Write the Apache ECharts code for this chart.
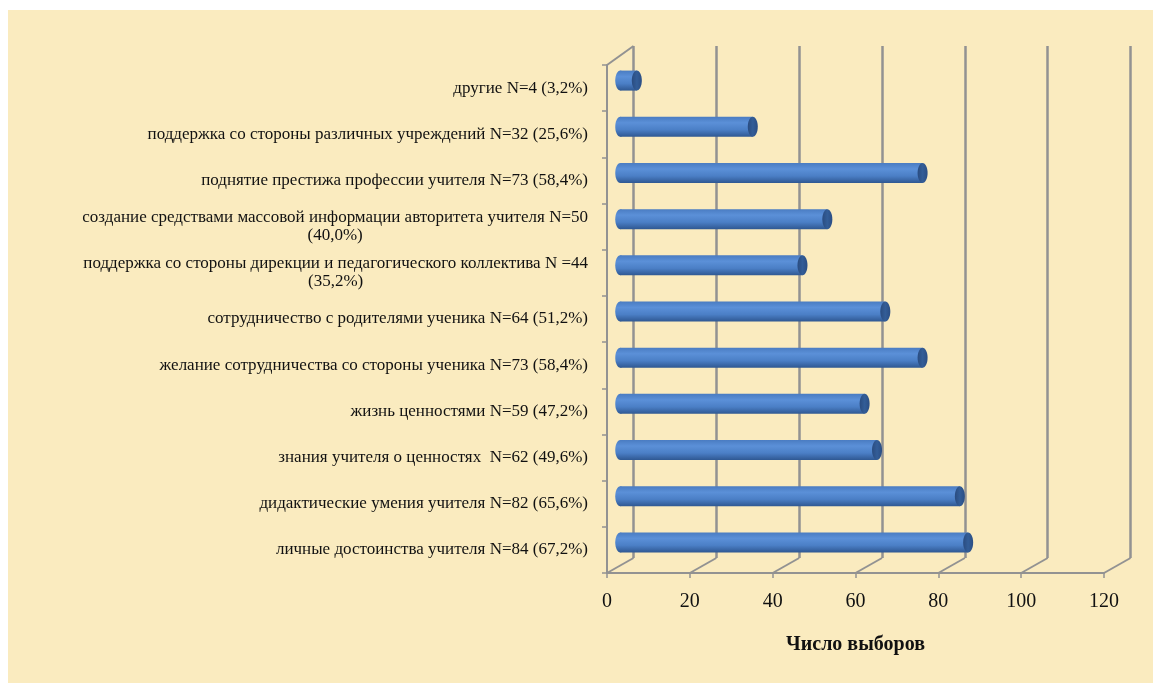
<!DOCTYPE html>
<html>
<head>
<meta charset="utf-8">
<script src="https://cdn.jsdelivr.net/npm/echarts@6/dist/echarts.min.js"></script>
<style>
  html, body { margin: 0; padding: 0; background: #fff; }
  #chart { width: 1161px; height: 693px; }
</style>
</head>
<body>
<div id="chart"></div>
<script>
// categories, top to bottom
const categories = [
  "другие N=4 (3,2%)",
  "поддержка со стороны различных учреждений N=32 (25,6%)",
  "поднятие престижа профессии учителя N=73 (58,4%)",
  "создание средствами массовой информации авторитета учителя N=50\n(40,0%)",
  "поддержка со стороны дирекции и педагогического коллектива N =44\n(35,2%)",
  "сотрудничество с родителями ученика N=64 (51,2%)",
  "желание сотрудничества со стороны ученика N=73 (58,4%)",
  "жизнь ценностями N=59 (47,2%)",
  "знания учителя о ценностях  N=62 (49,6%)",
  "дидактические умения учителя N=82 (65,6%)",
  "личные достоинства учителя N=84 (67,2%)",
];
const values = [4, 32, 73, 50, 44, 64, 73, 59, 62, 82, 84];
const xTicks = [0, 20, 40, 60, 80, 100, 120];
const axisName = "Число выборов";

const FONT = "'Liberation Serif', 'Times New Roman', serif";
const LINE = "#929292";
// 3d depth of the plot box
const DEPTH_X = 26.5;
const DEPTH_Y_BOTTOM = 15;
const DEPTH_Y_TOP = 19;

var myChart = echarts.init(document.getElementById("chart"));

function renderBar(params, api) {
  var i = api.value(1);
  var p0 = api.coord([0, i]);
  var p1 = api.coord([api.value(0), i]);
  var dx = DEPTH_X / 2;
  var dy = -7.5;
  var h = 20;
  var x0 = p0[0] + dx;
  var x1 = p1[0] + dx;
  var y = p0[1] + dy - h / 2;
  var rx = 5;
  var body = new echarts.graphic.LinearGradient(0, 0, 0, 1, [
    { offset: 0, color: "#4a7cc2" },
    { offset: 0.3, color: "#5b90d8" },
    { offset: 0.65, color: "#4b7fc6" },
    { offset: 1, color: "#2f5892" },
  ]);
  var cap = new echarts.graphic.LinearGradient(0, 0, 1, 0, [
    { offset: 0, color: "#2a4c80" },
    { offset: 0.5, color: "#335d97" },
    { offset: 1, color: "#2b4e84" },
  ]);
  return {
    type: "group",
    children: [
      {
        type: "ellipse",
        shape: { cx: x0, cy: y + h / 2, rx: rx, ry: h / 2 },
        style: { fill: body },
      },
      {
        type: "rect",
        shape: { x: x0, y: y, width: Math.max(x1 - x0, 0), height: h },
        style: { fill: body },
      },
      {
        type: "ellipse",
        shape: { cx: x1, cy: y + h / 2, rx: rx, ry: h / 2 },
        style: { fill: cap },
      },
    ],
  };
}

function renderFloor(params, api) {
  var cs = params.coordSys;
  var v = api.value(0);
  var x = api.coord([v, 0])[0];
  var bottom = cs.y + cs.height;
  var children = [
    {
      type: "line",
      shape: { x1: x, y1: bottom, x2: x + DEPTH_X, y2: bottom - DEPTH_Y_BOTTOM },
      style: { stroke: LINE, lineWidth: 2 },
    },
  ];
  if (v === xTicks[0]) {
    children.push({
      type: "line",
      shape: { x1: x, y1: cs.y, x2: x + DEPTH_X, y2: cs.y - DEPTH_Y_TOP },
      style: { stroke: LINE, lineWidth: 2 },
    });
  }
  return { type: "group", children: children };
}

var option = {
  backgroundColor: "#ffffff",
  animation: false,
  graphic: [
    {
      type: "rect",
      z: -10,
      silent: true,
      shape: { x: 8, y: 10, width: 1145, height: 673 },
      style: { fill: "#faebbf" },
    },
  ],
  grid: [
    { left: 607, top: 65, width: 497, height: 508 },
    { left: 607 + DEPTH_X, top: 46, width: 497, height: 512 },
  ],
  xAxis: [
    {
      type: "value",
      gridIndex: 0,
      min: 0,
      max: 120,
      interval: 20,
      axisLine: { show: true, lineStyle: { color: LINE, width: 2 } },
      axisTick: { show: true, length: 5, lineStyle: { color: LINE, width: 1.5 } },
      splitLine: { show: false },
      axisLabel: { fontFamily: FONT, fontSize: 20, color: "#111", margin: 19 },
      name: axisName,
      nameLocation: "middle",
      nameGap: 62,
      nameTextStyle: { fontFamily: FONT, fontSize: 20, fontWeight: "bold", color: "#111" },
    },
    {
      type: "value",
      gridIndex: 1,
      min: 0,
      max: 120,
      interval: 20,
      axisLine: { show: false },
      axisTick: { show: false },
      axisLabel: { show: false },
      splitLine: { show: true, lineStyle: { color: LINE, width: 2.5 } },
    },
  ],
  yAxis: [
    {
      type: "category",
      gridIndex: 0,
      inverse: true,
      data: categories,
      axisLine: { show: true, lineStyle: { color: LINE, width: 2 } },
      axisTick: { show: true, length: 5, lineStyle: { color: LINE, width: 1.5 } },
      axisLabel: {
        interval: 0,
        margin: 19,
        fontFamily: FONT,
        fontSize: 17,
        color: "#111",
        formatter: function (v) {
          return v
            .split("\n")
            .map(function (l) {
              return "{c|" + l + "}";
            })
            .join("\n");
        },
        rich: {
          c: { align: "center", fontFamily: FONT, fontSize: 17, lineHeight: 18, color: "#111" },
        },
      },
    },
    {
      type: "category",
      gridIndex: 1,
      inverse: true,
      data: categories,
      show: false,
    },
  ],
  series: [
    {
      type: "custom",
      xAxisIndex: 0,
      yAxisIndex: 0,
      silent: true,
      z: 1,
      data: xTicks.map(function (t) {
        return [t, 0];
      }),
      renderItem: renderFloor,
    },
    {
      type: "custom",
      xAxisIndex: 0,
      yAxisIndex: 0,
      z: 5,
      data: values.map(function (v, i) {
        return [v, i];
      }),
      encode: { x: 0, y: 1 },
      renderItem: renderBar,
    },
  ],
};

myChart.setOption(option);
</script>
</body>
</html>
